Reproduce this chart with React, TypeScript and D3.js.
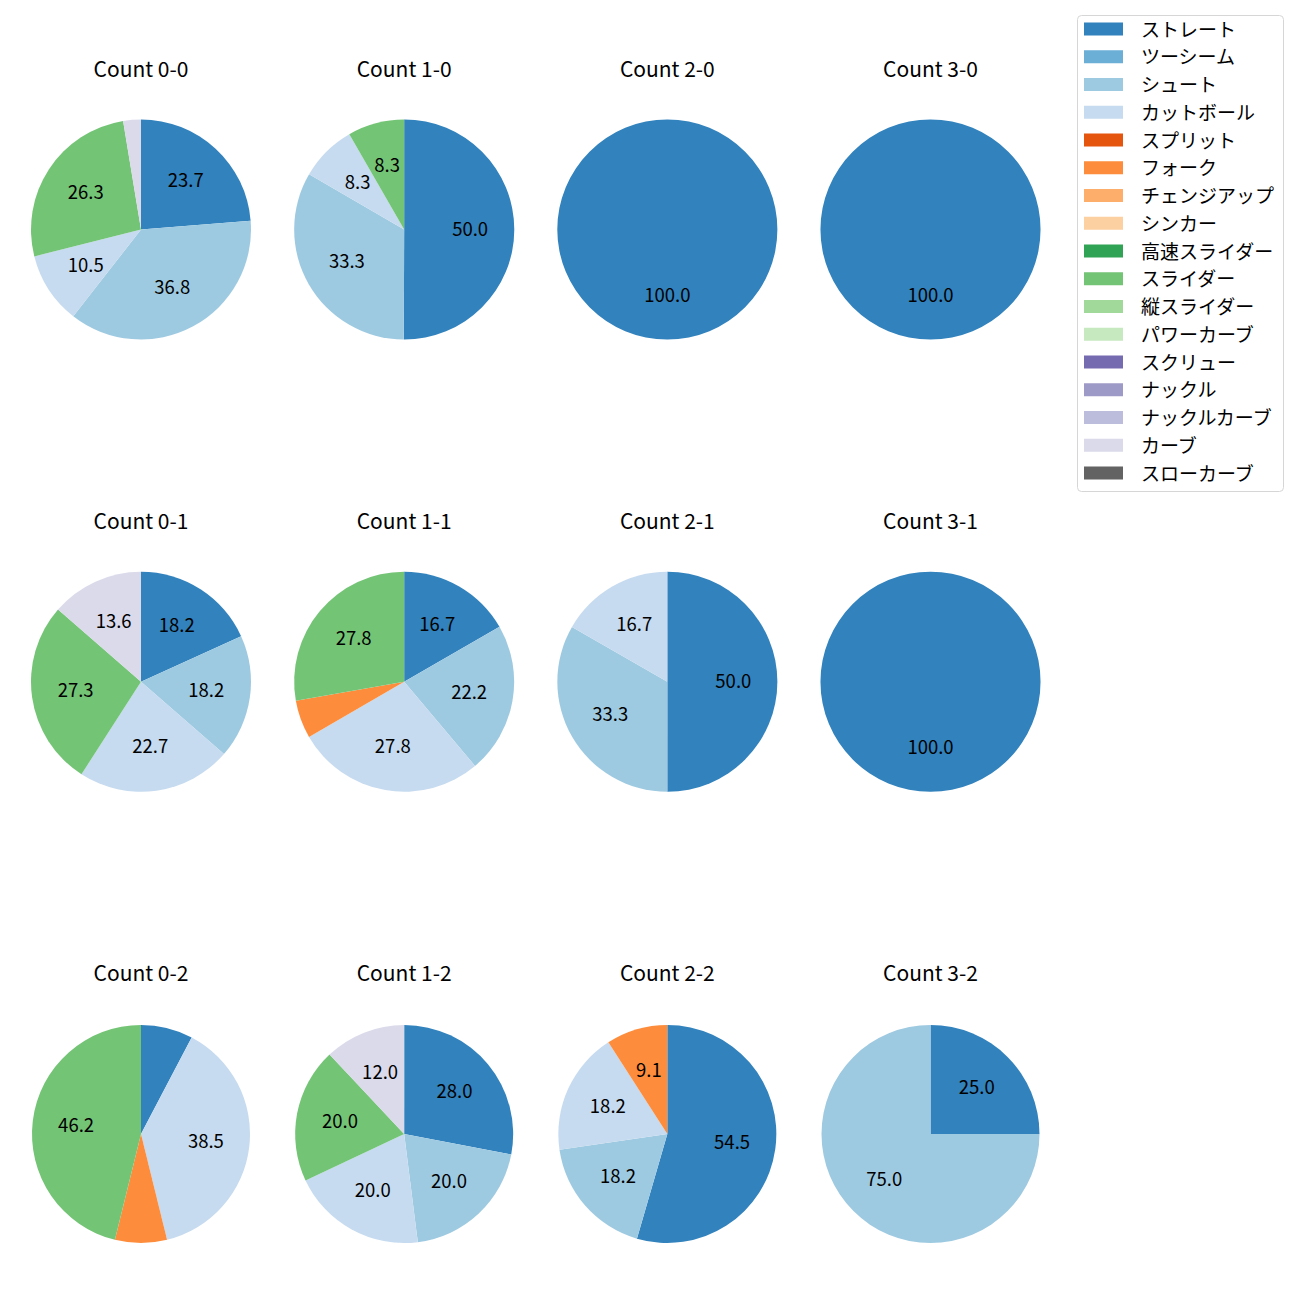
import React from "react";
import * as d3 from "d3";

const pitchTypes = ["ストレート","ツーシーム","シュート","カットボール","スプリット","フォーク","チェンジアップ","シンカー","高速スライダー","スライダー","縦スライダー","パワーカーブ","スクリュー","ナックル","ナックルカーブ","カーブ","スローカーブ"];
const pitchColors = ["#3182bd","#6baed6","#9ecae1","#c6dbef","#e6550d","#fd8d3c","#fdae6b","#fdd0a2","#31a354","#74c476","#a1d99b","#c7e9c0","#756bb1","#9e9ac8","#bcbddc","#dadaeb","#636363"];

const counts = ["0-0","1-0","2-0","3-0","0-1","1-1","2-1","3-1","0-2","1-2","2-2","3-2"];

// percentage per count (same order as counts)
const straight = [23.7, 50.0, 100, 100, 18.2, 16.7, 50.0, 100, 7.7, 28.0, 54.5, 25.0];
const shoot    = [36.8, 33.3, 0, 0, 18.2, 22.2, 33.3, 0, 0, 20.0, 18.2, 75.0];
const cutter   = [10.5, 8.3, 0, 0, 22.7, 27.8, 16.7, 0, 38.5, 20.0, 18.2, 0];
const fork     = [0, 0, 0, 0, 0, 5.6, 0, 0, 7.7, 0, 9.1, 0];
const slider   = [26.3, 8.3, 0, 0, 27.3, 27.8, 0, 0, 46.2, 20.0, 0, 0];
const curve    = [2.6, 0, 0, 0, 13.6, 0, 0, 0, 0, 12.0, 0, 0];

const seriesByType: Record<string, number[]> = {
  "ストレート": straight,
  "シュート": shoot,
  "カットボール": cutter,
  "フォーク": fork,
  "スライダー": slider,
  "カーブ": curve,
};

const FONT = "'Noto Sans CJK JP', 'Noto Sans', sans-serif";

export default function App() {
  const colX = d3.scaleLinear().domain([0, 3]).range([141, 930.5]);
  const rowY = d3.scaleLinear().domain([0, 2]).range([229.5, 1134]);
  const pie = d3.pie<any>().value((d: any) => d.value).sort(null).startAngle(0).endAngle(2 * Math.PI);
  const color = d3.scaleOrdinal<string, string>().domain(pitchTypes).range(pitchColors);
  const legendY = d3.scaleLinear().domain([0, pitchTypes.length - 1]).range([29, 473]);

  return (
    <svg width={1300} height={1300} style={{ position: "absolute", left: 0, top: 0, background: "#fff" }} fontFamily={FONT}>
      {counts.map((c, i) => {
        const row = Math.floor(i / 4);
        const cx = colX(i % 4);
        const cy = rowY(row);
        const R = row === 2 ? 109 : 110;
        const arc = d3.arc<any>().innerRadius(0).outerRadius(R);
        const data = pitchTypes
          .map((t) => ({ type: t, value: seriesByType[t] ? seriesByType[t][i] : 0 }))
          .filter((d) => d.value > 0);
        const arcs = pie(data);
        return (
          <g key={c}>
            <text x={cx} y={cy - 162} textAnchor="middle" dominantBaseline="central" fontSize={21} fill="#000">
              {`Count ${c}`}
            </text>
            <g transform={`translate(${cx},${cy})`}>
              {arcs.map((a: any) => (
                <path key={a.data.type} d={arc(a) as string} fill={color(a.data.type)} />
              ))}
              {arcs.map((a: any) => {
                const pct = a.data.value;
                if (pct < 8) return null;
                const mid = (a.startAngle + a.endAngle) / 2;
                const x = Math.sin(mid) * R * 0.6;
                const y = -Math.cos(mid) * R * 0.6;
                return (
                  <text key={a.data.type + "l"} x={x} y={y - 2} textAnchor="middle" dominantBaseline="central" fontSize={18.5} fill="#000">
                    {pct.toFixed(1)}
                  </text>
                );
              })}
            </g>
          </g>
        );
      })}
      <rect x={1077.5} y={15.5} width={206} height={476} rx={4} fill="#fff" stroke="#d6d6d6" />
      {pitchTypes.map((t, i) => (
        <g key={t}>
          <rect x={1084} y={legendY(i) - 6.5} width={39} height={13} fill={color(t)} />
          <text x={1141} y={legendY(i) - 1} dominantBaseline="central" fontSize={19} fill="#000">{t}</text>
        </g>
      ))}
    </svg>
  );
}
